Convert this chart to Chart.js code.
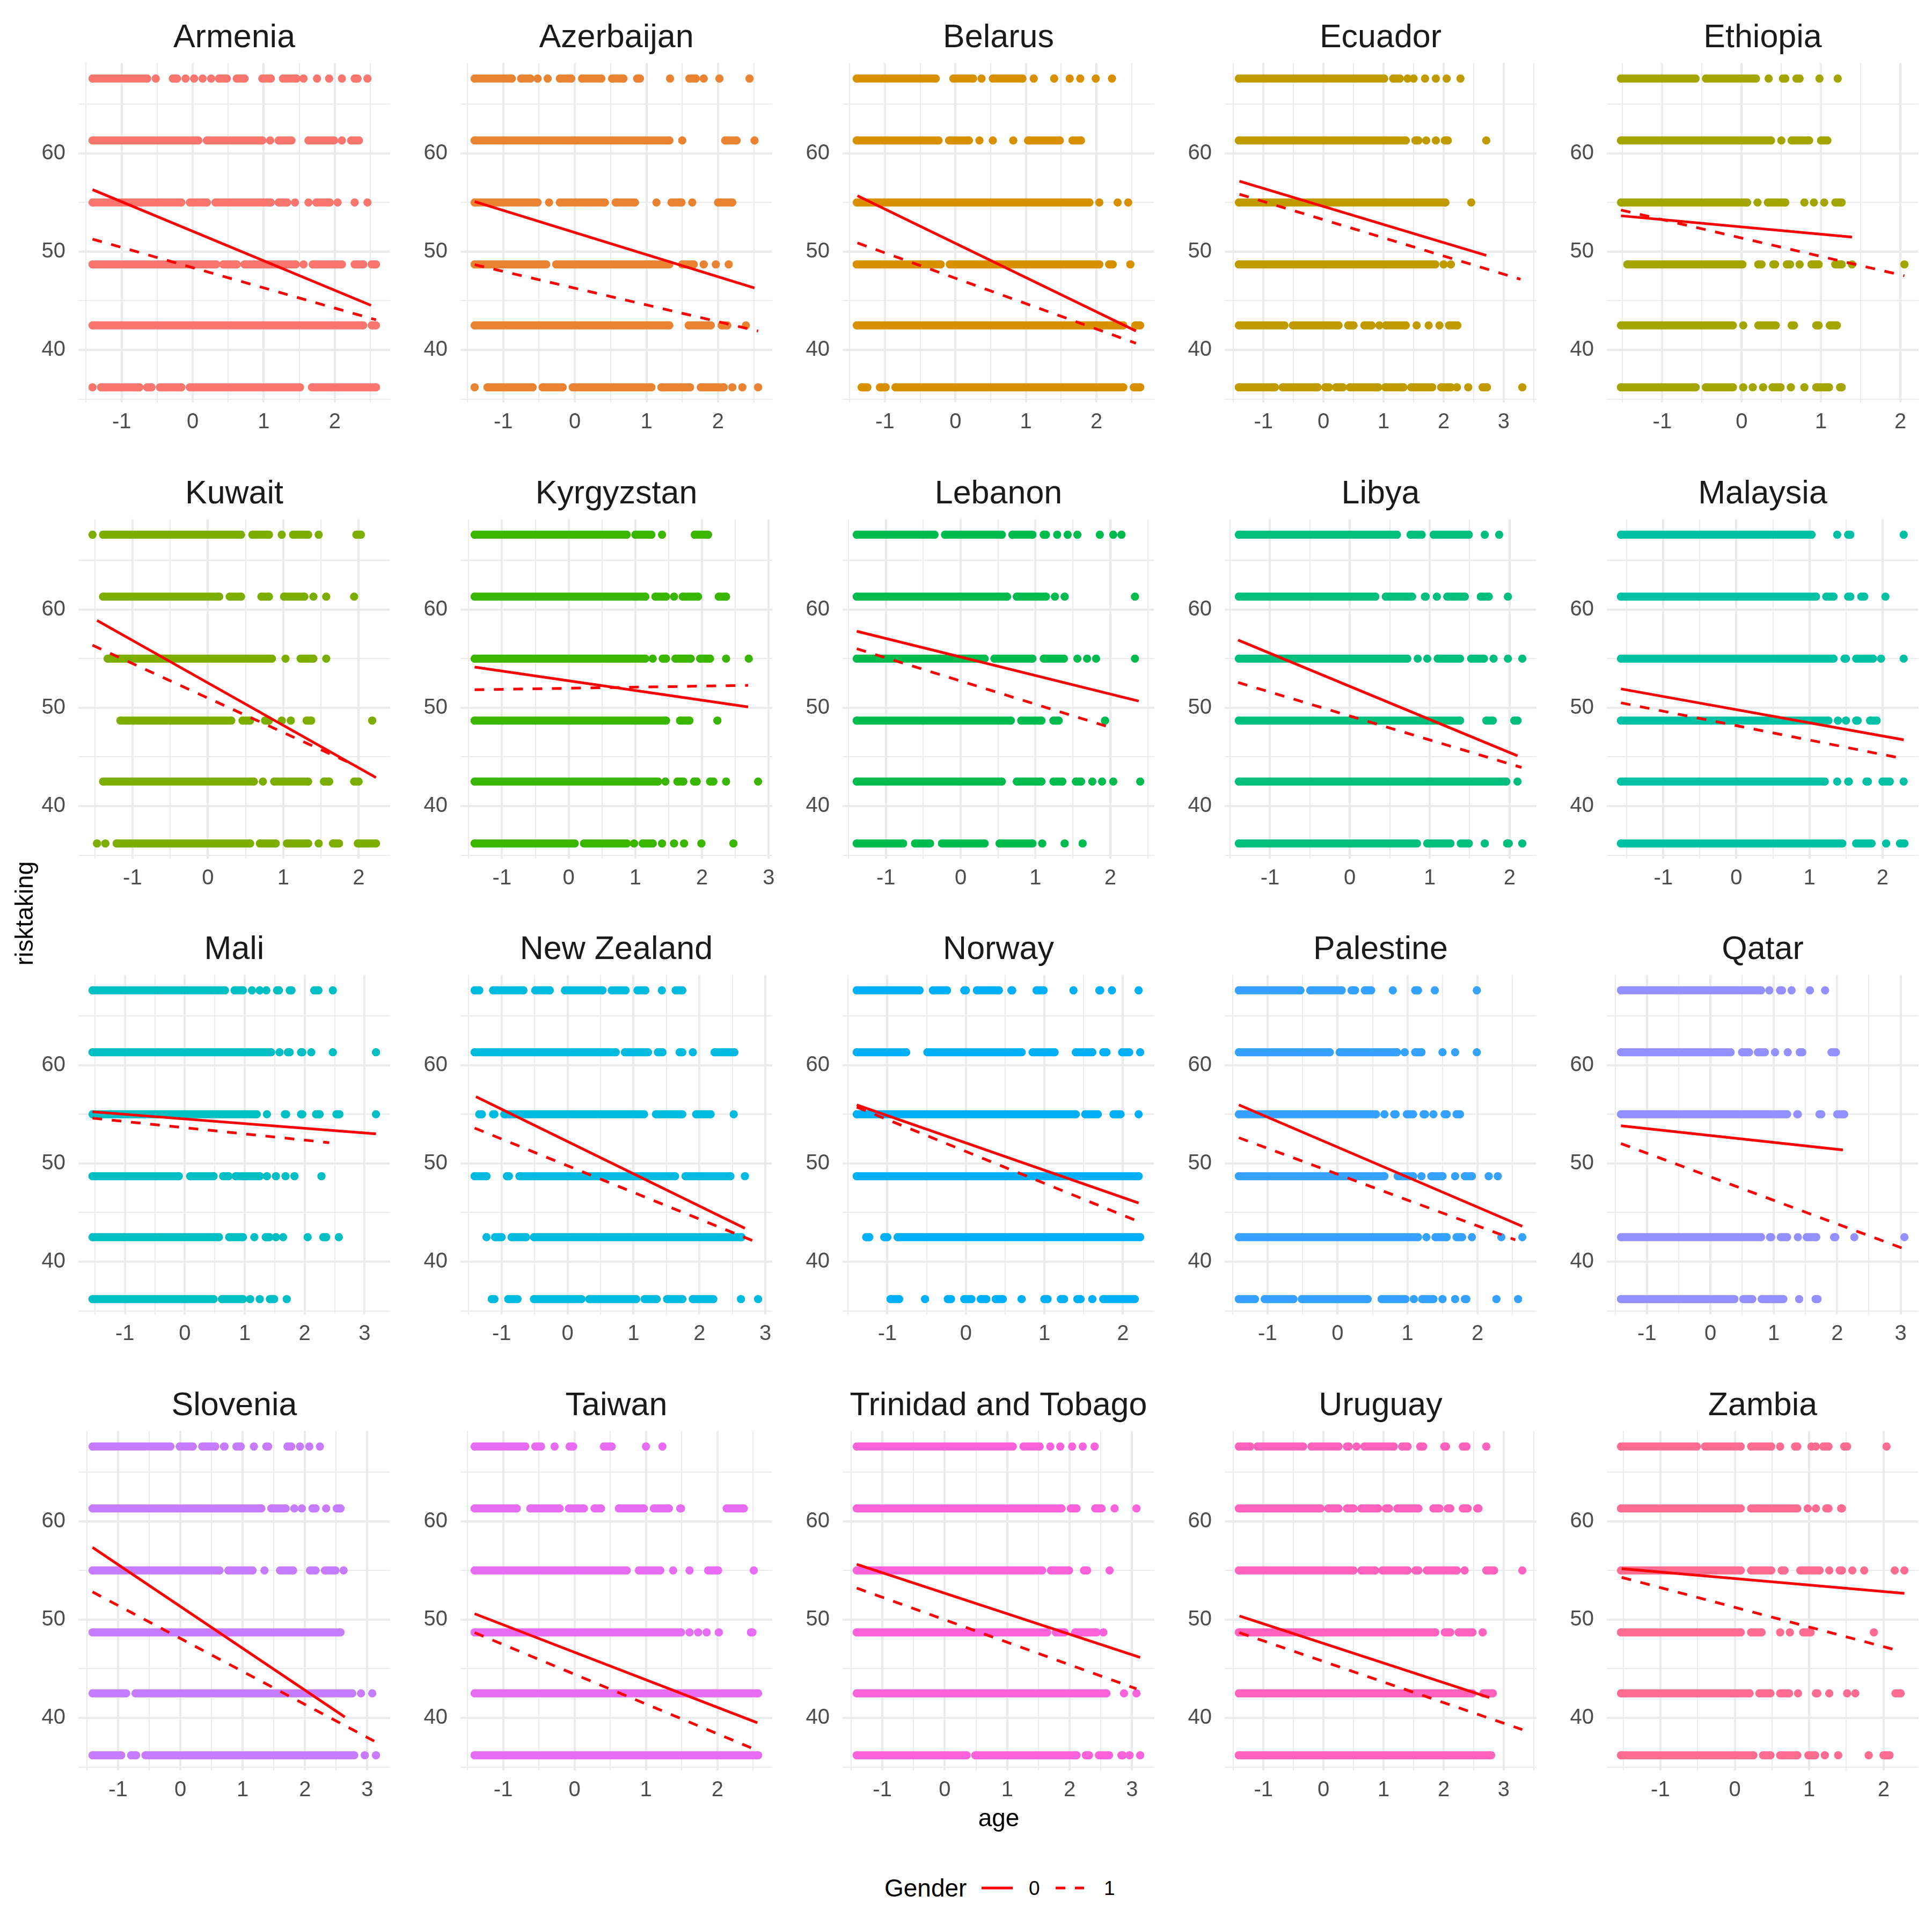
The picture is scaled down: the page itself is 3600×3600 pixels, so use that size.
<!DOCTYPE html>
<html><head><meta charset="utf-8">
<script src="https://cdn.jsdelivr.net/npm/chart.js@4.4.1/dist/chart.umd.min.js"></script>
<style>
html,body{margin:0;padding:0;background:#ffffff;}
body{width:3600px;height:3600px;position:relative;overflow:hidden;font-family:"Liberation Sans",Arial,Helvetica,sans-serif;}
canvas{position:absolute;}
.lbl{position:absolute;white-space:nowrap;color:#000000;line-height:1;}
</style></head><body>
<script>
// ---------- data ----------
const countries = ["Armenia","Azerbaijan","Belarus","Ecuador","Ethiopia","Kuwait","Kyrgyzstan","Lebanon","Libya","Malaysia","Mali","New Zealand","Norway","Palestine","Qatar","Slovenia","Taiwan","Trinidad and Tobago","Uruguay","Zambia"];
const colors = ["#F8766D","#EA8331","#D89000","#C09B00","#A3A500","#7CAE00","#39B600","#00BB4E","#00BF7D","#00C1A3","#00BFC4","#00BAE0","#00B0F6","#35A2FF","#9590FF","#C77CFF","#E76BF3","#FA62DB","#FF62BC","#FF6C91"];
// risktaking levels (top to bottom); each country lists, per level, ages of points: number = single point, [a,b] = dense run of points
const levels = [67.6, 61.3, 55.0, 48.7, 42.5, 36.2];
const yTickLabels = [40, 50, 60];
const genderLabels = ["0", "1"];

const armenia = [
 [[-1.41,-0.64],-0.52,[-0.28,-0.22],-0.1,0.02,0.14,0.26,[0.37,0.48],[0.62,0.73],[0.98,1.1],[1.27,1.46],1.56,1.75,1.92,2.1,[2.28,2.32],2.46],
 [[-1.41,0.08],[0.2,0.98],1.09,[1.21,1.39],[1.63,1.99],2.1,[2.23,2.34]],
 [[-1.41,-0.16],[-0.04,0.2],[0.32,1.1],[1.21,1.33],1.44,1.63,[1.74,1.93],2.04,2.28,2.46],
 [[-1.41,0.33],[0.43,0.62],[0.73,1.45],1.56,[1.69,2.1],[2.28,2.4],[2.52,2.58]],
 [[-1.41,2.4],[2.52,2.58]],
 [-1.41,[-1.29,-0.75],[-0.64,-0.58],[-0.46,-0.16],[-0.04,1.51],[1.68,2.58]]
];
const azerbaijan = [
 [[-1.4,-0.88],[-0.75,-0.62],-0.52,-0.38,[-0.21,-0.05],[0.1,0.37],[0.52,0.68],[0.87,0.91],1.33,[1.6,1.69],1.8,2.02,2.44],
 [[-1.4,1.32],1.5,[2.1,2.26],2.51],
 [[-1.4,-0.52],-0.36,[-0.21,0.42],[0.57,0.84],1.14,[1.35,1.49],1.64,[2.0,2.2]],
 [[-1.4,-0.4],[-0.26,1.32],[1.5,1.66],1.8,1.97,2.15],
 [[-1.4,1.32],[1.59,1.9],[2.05,2.13],2.39],
 [-1.4,[-1.22,-0.59],[-0.45,-0.17],[-0.03,1.07],[1.21,1.61],[1.76,2.08],2.2,2.34,2.56]
];
const belarus = [
 [[-1.4,-0.28],[-0.03,0.25],0.37,[0.53,0.95],1.11,1.4,1.62,1.77,1.99,2.22],
 [[-1.4,-0.24],[-0.09,0.19],0.34,0.53,0.82,[1.03,1.48],[1.66,1.78]],
 [[-1.4,1.9],2.04,2.3,2.45],
 [[-1.4,-0.21],[-0.08,2.04],[2.18,2.23],2.48],
 [[-1.4,2.38],[2.55,2.62]],
 [[-1.33,-1.25],[-1.07,-0.99],[-0.85,2.38],[2.53,2.62]]
];
const ecuador = [
 [[-1.41,1.01],[1.16,1.27],1.4,1.5,1.69,1.87,2.05,2.28],
 [[-1.41,1.37],[1.53,1.58],1.71,1.87,[2.02,2.07],2.71],
 [[-1.41,2.03],2.46],
 [[-1.41,1.86],2.0,2.12],
 [[-1.41,-0.65],[-0.51,0.25],[0.41,0.5],[0.68,0.8],0.93,[1.04,1.37],1.55,1.75,1.93,[2.09,2.23]],
 [[-1.41,-0.81],[-0.68,-0.1],[0.03,0.09],[0.21,0.32],[0.44,0.91],[1.03,1.33],[1.46,1.81],[1.96,2.12],2.22,2.41,[2.65,2.72],3.31]
];
const ethiopia = [
 [[-1.52,-0.58],[-0.45,0.18],0.34,[0.52,0.55],[0.69,0.73],0.98,1.21],
 [[-1.52,0.37],0.5,[0.63,0.85],[1.0,1.08]],
 [[-1.52,0.07],0.2,[0.33,0.55],0.79,0.91,1.04,[1.18,1.26]],
 [[-1.44,0.01],[0.21,0.25],[0.4,0.42],[0.57,0.61],0.73,[0.88,0.97],[1.18,1.26],1.39,2.05],
 [[-1.52,-0.11],0.02,[0.21,0.43],[0.63,0.66],[0.94,0.97],[1.11,1.2]],
 [[-1.52,-0.58],[-0.45,-0.11],0.02,0.14,0.27,[0.39,0.49],0.62,0.79,[0.94,1.1],[1.24,1.26]]
];
const kuwait = [
 [-1.53,[-1.39,0.44],[0.59,0.81],0.98,[1.13,1.33],1.47,[1.97,2.03]],
 [[-1.39,0.15],[0.29,0.44],[0.71,0.81],[1.01,1.28],1.4,1.57,1.94],
 [[-1.33,0.85],1.03,[1.23,1.4],1.57],
 [[-1.16,0.31],[0.46,0.56],[0.76,0.81],0.98,1.1,[1.31,1.37],2.18],
 [[-1.39,0.61],0.73,[0.88,1.33],[1.54,1.61],[1.94,2.0]],
 [-1.47,-1.36,[-1.21,0.56],[0.69,0.9],[1.05,1.33],1.47,[1.66,1.74],[1.99,2.23]]
];
const kyrgyzstan = [
 [[-1.41,0.87],[1.0,1.24],1.4,[1.89,2.09]],
 [[-1.41,1.15],[1.3,1.46],1.58,[1.71,1.94],[2.25,2.36]],
 [[-1.41,1.15],1.26,[1.41,1.46],[1.6,1.83],[1.97,2.12],2.36,2.7],
 [[-1.41,1.46],[1.67,1.81],2.23],
 [[-1.41,1.34],1.45,[1.63,1.72],[1.88,1.92],[2.12,2.17],2.36,2.84],
 [[-1.41,0.09],[0.23,0.87],0.98,[1.11,1.26],1.4,1.58,1.73,1.99,2.47]
];
const lebanon = [
 [[-1.39,-0.35],[-0.21,0.55],[0.69,0.96],[1.11,1.14],1.29,1.43,1.56,1.86,2.04,2.15],
 [[-1.39,0.62],[0.75,1.14],1.26,1.39,2.33],
 [[-1.39,0.32],[0.45,0.96],[1.11,1.38],1.56,1.69,1.81,2.33],
 [[-1.39,0.67],[0.81,1.08],[1.24,1.31],1.93],
 [[-1.39,0.55],[0.75,1.08],[1.24,1.36],[1.54,1.61],1.76,1.89,2.04,2.4],
 [[-1.39,-0.77],[-0.61,-0.41],[-0.25,0.32],[0.52,0.96],1.09,1.39,1.63]
];
const libya = [
 [[-1.39,0.59],[0.76,0.9],[1.05,1.49],1.69,1.87],
 [[-1.39,0.32],[0.45,0.78],[0.94,0.95],1.09,[1.22,1.44],[1.64,1.74],1.98],
 [[-1.39,0.72],0.85,0.97,[1.1,1.38],[1.52,1.68],1.8,1.98,2.16],
 [[-1.39,1.38],[1.71,1.79],[2.06,2.1]],
 [[-1.39,1.96],2.1],
 [[-1.39,0.84],[0.97,1.26],[1.39,1.49],1.69,[1.97,1.99],2.16]
];
const malaysia = [
 [[-1.58,1.03],1.38,[1.53,1.56],2.29],
 [[-1.58,1.09],[1.23,1.33],[1.53,1.56],[1.71,1.75],2.04],
 [[-1.58,1.33],[1.48,1.5],[1.64,1.87],1.98,2.29],
 [[-1.58,1.26],1.39,1.5,[1.64,1.66],[1.83,1.92]],
 [[-1.58,1.21],1.38,[1.53,1.54],[1.78,1.8],[2.0,2.1],2.29],
 [[-1.58,1.45],[1.64,1.85],2.05,[2.24,2.3]]
];
const mali = [
 [[-1.54,0.67],[0.83,0.97],1.12,1.25,1.36,[1.54,1.57],[1.75,1.78],[2.16,2.23],2.47],
 [[-1.54,1.44],1.58,[1.72,1.75],[1.94,1.96],2.11,2.47,3.19],
 [[-1.54,1.2],1.37,[1.67,1.69],[1.94,1.96],[2.19,2.25],[2.53,2.58],3.19],
 [[-1.54,-0.1],[0.09,0.48],[0.64,0.73],[0.85,1.25],1.37,1.52,1.68,1.83,2.28],
 [[-1.54,0.57],[0.74,0.97],1.16,[1.35,1.41],1.52,1.64,2.05,[2.31,2.36],2.57],
 [[-1.54,0.48],[0.62,0.97],1.09,1.25,[1.42,1.49],1.7]
];
const newZealand = [
 [[-1.41,-1.34],[-1.13,-0.67],[-0.49,-0.27],[-0.04,0.53],[0.67,0.88],[1.06,1.18],1.43,[1.64,1.74]],
 [[-1.41,0.73],[0.87,1.22],[1.37,1.44],[1.7,1.74],1.9,[2.23,2.53]],
 [[-1.34,-1.3],[-1.13,-1.11],[-0.96,1.16],[1.34,1.74],[1.95,2.17],2.52],
 [[-1.41,-1.23],[-0.92,-0.89],[-0.73,1.63],[1.79,2.47],2.69],
 [-1.23,[-1.1,-1.0],[-0.85,-0.63],[-0.51,2.64]],
 [[-1.15,-1.11],[-0.9,-0.76],[-0.51,0.21],[0.33,1.04],[1.17,1.35],[1.51,1.74],[1.9,2.21],2.63,2.89]
];
const norway = [
 [[-1.39,-0.59],[-0.42,-0.24],[-0.02,0.0],[0.14,0.42],[0.58,0.59],[0.9,0.99],1.37,[1.7,1.71],1.86,2.2],
 [[-1.39,-0.76],[-0.49,0.71],[0.85,1.13],[1.4,1.61],[1.75,1.79],[1.99,2.08],2.22],
 [[-1.39,1.4],[1.52,1.68],[1.88,1.97],2.2],
 [[-1.39,2.2]],
 [[-1.27,-1.23],[-1.04,-1.0],[-0.87,2.22]],
 [[-0.96,-0.85],-0.52,[-0.23,-0.19],[-0.02,0.07],[0.19,0.26],[0.38,0.47],0.71,[1.0,1.04],[1.21,1.25],[1.42,1.46],1.61,[1.75,2.15]]
];
const palestine = [
 [[-1.41,-0.53],[-0.39,0.06],[0.2,0.25],[0.39,0.48],0.79,[1.11,1.15],1.39,1.99],
 [[-1.41,-0.11],[0.03,0.85],0.96,[1.11,1.2],1.5,1.68,1.99],
 [[-1.41,0.55],0.67,[0.81,0.83],[0.99,1.08],[1.23,1.25],1.37,[1.53,1.56],[1.7,1.75]],
 [[-1.41,0.67],[0.86,1.08],1.2,[1.34,1.5],1.68,[1.82,1.92],2.16,2.29],
 [[-1.41,1.15],1.27,[1.4,1.56],[1.7,1.78],1.92,2.34,2.64],
 [[-1.41,-1.18],[-1.04,-0.63],[-0.51,0.43],[0.63,0.97],1.09,[1.21,1.37],1.5,1.68,[1.82,1.84],2.27,2.58]
];
const qatar = [
 [[-1.41,0.8],0.93,[1.1,1.13],1.28,1.57,1.81],
 [[-1.41,0.32],[0.5,0.61],[0.75,0.86],1.02,1.22,[1.41,1.45],[1.91,1.98]],
 [[-1.41,1.21],[1.37,1.38],[1.72,1.75],[2.0,2.11]],
 [],
 [[-1.41,0.8],[0.94,0.96],[1.11,1.21],1.38,[1.52,1.67],[1.95,1.97],2.27,3.06],
 [[-1.41,0.38],[0.52,0.66],[0.81,1.15],1.4,[1.66,1.69]]
];
const slovenia = [
 [[-1.41,-0.16],[-0.01,0.2],[0.35,0.56],[0.7,0.71],[0.9,0.97],1.18,[1.38,1.41],[1.72,1.78],1.92,2.07,2.24],
 [[-1.41,1.3],[1.46,1.69],1.83,1.95,[2.12,2.17],2.34,[2.51,2.57]],
 [[-1.41,0.63],[0.77,1.16],1.35,[1.6,1.81],[2.08,2.17],[2.32,2.49],2.62],
 [[-1.41,2.57]],
 [[-1.41,-0.87],[-0.72,2.76],2.9,3.08],
 [[-1.41,-0.95],[-0.79,-0.71],[-0.56,2.79],2.96,3.14]
];
const taiwan = [
 [[-1.4,-0.69],[-0.55,-0.47],-0.28,[-0.07,-0.02],[0.41,0.52],1.0,1.23],
 [[-1.4,-0.81],[-0.62,-0.21],[-0.08,0.13],[0.28,0.37],[0.62,0.97],[1.11,1.32],[1.48,1.49],[2.13,2.37]],
 [[-1.4,0.73],[0.9,1.2],1.38,1.61,[1.87,2.01],2.51],
 [[-1.4,1.49],1.61,1.73,1.85,2.02,[2.47,2.49]],
 [[-1.4,2.57]],
 [[-1.4,2.57]]
];
const trinidad = [
 [[-1.41,1.09],[1.26,1.52],1.69,1.85,2.04,2.21,2.4],
 [[-1.41,1.87],[2.02,2.11],[2.41,2.51],2.72,3.07],
 [[-1.41,1.56],[1.7,1.99],[2.23,2.28],2.64],
 [[-1.41,1.64],[1.78,1.92],[2.09,2.43],2.54],
 [[-1.41,2.59],2.87,3.07],
 [[-1.41,0.35],[0.49,2.11],[2.26,2.31],[2.47,2.63],[2.83,2.85],2.96,3.13]
];
const uruguay = [
 [[-1.41,-1.22],[-1.1,-0.34],[-0.2,0.25],[0.39,0.42],0.55,[0.68,1.17],[1.31,1.4],[1.61,1.66],[2.01,2.04],[2.32,2.38],2.71],
 [[-1.41,-0.05],[0.08,0.25],[0.39,0.5],[0.63,0.91],[1.04,1.09],[1.23,1.58],[1.83,1.93],[2.07,2.11],[2.32,2.4],[2.56,2.58]],
 [[-1.41,0.5],[0.63,0.86],[0.98,1.4],[1.53,1.58],[1.72,2.22],2.35,[2.71,2.84],3.31],
 [[-1.41,1.86],[2.02,2.11],[2.25,2.48],2.65],
 [[-1.41,2.48],[2.66,2.82]],
 [[-1.41,2.79]]
];
const zambia = [
 [[-1.53,-0.51],[-0.4,0.08],[0.22,0.49],0.61,[0.81,0.84],1.03,1.09,[1.19,1.26],[1.47,1.51],2.04],
 [[-1.53,0.08],[0.22,0.84],0.98,1.09,[1.23,1.26],[1.43,1.44]],
 [[-1.53,0.08],[0.22,0.49],[0.63,0.67],[0.88,1.14],1.27,[1.41,1.44],1.58,1.74,2.15,2.28],
 [[-1.53,0.08],[0.22,0.36],0.61,0.74,[0.92,1.02],1.87],
 [[-1.53,0.2],[0.33,0.48],[0.61,0.73],0.85,[1.09,1.11],1.27,1.51,1.62,[2.16,2.23]],
 [[-1.53,0.25],[0.38,0.48],[0.61,0.84],[0.99,1.08],1.21,1.39,1.8,[2.0,2.08]]
];
// fitted lines [x0, y0, x1, y1]: Gender 0 (solid) and Gender 1 (dashed)
const fitGender0 = [
 [-1.41,56.3,2.51,44.53],[-1.4,55.09,2.51,46.3],[-1.39,55.68,2.56,41.92],[-1.4,57.16,2.71,49.61],[-1.52,53.64,1.39,51.48],
 [-1.47,58.88,2.23,42.9],[-1.41,54.14,2.69,50.09],[-1.39,57.78,2.38,50.68],[-1.4,56.89,2.1,45.11],[-1.58,51.92,2.29,46.74],
 [-1.54,55.25,3.19,53.0],[-1.39,56.78,2.69,43.4],[-1.39,55.95,2.2,45.97],[-1.41,55.95,2.64,43.6],[-1.41,53.83,2.09,51.37],
 [-1.41,57.34,2.64,40.09],[-1.4,50.59,2.56,39.5],[-1.41,55.62,3.13,46.15],[-1.4,50.36,2.76,42.07],[-1.52,55.18,2.28,52.66]
];
const fitGender1 = [
 [-1.41,51.27,2.58,43.06],[-1.4,48.67,2.56,41.92],[-1.39,50.88,2.56,40.68],[-1.4,55.83,3.28,47.19],[-1.52,54.23,2.05,47.54],
 [-1.53,56.36,1.97,44.08],[-1.41,51.83,2.69,52.28],[-1.39,56.0,2.03,47.93],[-1.4,52.57,2.15,43.93],[-1.58,50.5,2.29,44.82],
 [-1.54,54.6,2.41,52.11],[-1.41,53.59,2.89,41.92],[-1.39,55.72,2.2,44.08],[-1.41,52.61,2.54,42.22],[-1.41,52.02,3.06,41.3],
 [-1.41,52.81,3.14,37.54],[-1.4,48.67,2.56,36.69],[-1.41,53.2,3.07,42.96],[-1.4,48.67,3.31,38.81],[-1.52,54.29,2.22,46.8]
];
const pointSets = [armenia, azerbaijan, belarus, ecuador, ethiopia, kuwait, kyrgyzstan, lebanon, libya, malaysia,
                   mali, newZealand, norway, palestine, qatar, slovenia, taiwan, trinidad, uruguay, zambia];

// ---------- layout ----------
const FONT = '"Liberation Sans", Arial, Helvetica, sans-serif';
const colLeft = [146, 858, 1570, 2282, 2994];
const ROW_STEP = 849.5;
const YAXIS_W = 146, PANEL_W = 581, RIGHT_PAD = 30, CANVAS_H = 850;
const TITLE_H = 117.6, PANEL_H = 632.8;
const Y_MIN = 34.63, Y_MAX = 69.17;

function isMult(v, s) { return Math.abs(v / s - Math.round(v / s)) < 1e-6; }
function stepTicks(step) {
  return scale => {
    const t = [];
    for (let k = Math.ceil(scale.min / step - 1e-9); k * step <= scale.max + 1e-9; k++) {
      t.push({value: Math.round(k * step * 1000) / 1000});
    }
    scale.ticks = t;
  };
}

countries.forEach((name, i) => {
  const row = Math.floor(i / 5), col = i % 5;
  const cw = YAXIS_W + PANEL_W + RIGHT_PAD;
  const canvas = document.createElement('canvas');
  canvas.width = cw; canvas.height = CANVAS_H;
  canvas.style.width = cw + 'px'; canvas.style.height = CANVAS_H + 'px';
  canvas.style.left = (colLeft[col] - YAXIS_W) + 'px';
  canvas.style.top = Math.round(row * ROW_STEP) + 'px';
  document.body.appendChild(canvas);

  const color = colors[i];
  const datasets = [];
  let xmin = Infinity, xmax = -Infinity;
  const f0 = fitGender0[i], f1 = fitGender1[i];
  datasets.push({data: [{x: f0[0], y: f0[1]}, {x: f0[2], y: f0[3]}], showLine: true, borderColor: '#FF0000',
    borderWidth: 5, pointRadius: 0, pointHoverRadius: 0, order: 0});
  datasets.push({data: [{x: f1[0], y: f1[1]}, {x: f1[2], y: f1[3]}], showLine: true, borderColor: '#FF0000',
    borderWidth: 5, borderDash: [18, 18], pointRadius: 0, pointHoverRadius: 0, order: 0});

  pointSets[i].forEach((runs, li) => {
    const y = levels[li];
    const data = [];
    runs.forEach(r => {
      const xs = Array.isArray(r) ? r : [r];
      xs.forEach(x => { data.push({x: x, y: y}); xmin = Math.min(xmin, x); xmax = Math.max(xmax, x); });
      data.push({x: xs[xs.length - 1], y: null});
    });
    datasets.push({data: data, showLine: true, spanGaps: false, borderColor: color, backgroundColor: color,
      borderWidth: 15, borderCapStyle: 'round', pointRadius: 7.5, pointHoverRadius: 7.5, pointBorderWidth: 0,
      pointBackgroundColor: color, order: 1});
  });
  const ext = (xmax - xmin) * 0.05;

  new Chart(canvas, {
    type: 'scatter',
    data: {datasets: datasets},
    options: {
      responsive: false, animation: false, devicePixelRatio: 1, events: [],
      layout: {padding: {left: 0, right: RIGHT_PAD, top: 0, bottom: 0}},
      plugins: {
        legend: {display: false}, tooltip: {enabled: false},
        title: {display: true, text: name, fullSize: false, color: '#1A1A1A',
          font: {family: FONT, size: 61, weight: 'normal', lineHeight: 1.2},
          padding: {top: 34.9, bottom: 9.5}}
      },
      scales: {
        x: {
          type: 'linear', bounds: 'data', min: xmin - ext, max: xmax + ext,
          afterBuildTicks: stepTicks(0.5),
          afterFit: s => { s.height = CANVAS_H - TITLE_H - PANEL_H; },
          border: {display: false},
          grid: {color: '#EBEBEB', drawTicks: false,
            lineWidth: c => (c.tick && isMult(c.tick.value, 1)) ? 4 : 2},
          ticks: {autoSkip: false, maxRotation: 0, minRotation: 0,
            padding: 13, color: '#4D4D4D', font: {family: FONT, size: 40},
            callback: v => isMult(v, 1) ? String(Math.round(v)) : ''}
        },
        y: {
          type: 'linear', bounds: 'data', min: Y_MIN, max: Y_MAX,
          afterBuildTicks: stepTicks(5),
          afterFit: s => { s.width = YAXIS_W; },
          border: {display: false},
          grid: {color: '#EBEBEB', drawTicks: false,
            lineWidth: c => (c.tick && isMult(c.tick.value, 10)) ? 4 : 2},
          ticks: {autoSkip: false, padding: 24,
            color: '#4D4D4D', font: {family: FONT, size: 40},
            callback: v => (isMult(v, 10) && yTickLabels.includes(Math.round(v))) ? String(Math.round(v)) : ''}
        }
      }
    }
  });
});

// ---------- axis titles and legend ----------
function addLabel(text, css) {
  const d = document.createElement('div');
  d.className = 'lbl';
  d.textContent = text;
  Object.assign(d.style, css);
  document.body.appendChild(d);
  return d;
}
addLabel('age', {left: '1861px', top: '3387px', fontSize: '46px', transform: 'translate(-50%,-50%)'});
addLabel('risktaking', {left: '45px', top: '1702px', fontSize: '46px', transform: 'translate(-50%,-50%) rotate(-90deg)'});
addLabel('Gender', {left: '1648px', top: '3518px', fontSize: '46px', transform: 'translateY(-50%)'});
addLabel(genderLabels[0], {left: '1917px', top: '3518px', fontSize: '37px', transform: 'translateY(-50%)'});
addLabel(genderLabels[1], {left: '2057px', top: '3518px', fontSize: '37px', transform: 'translateY(-50%)'});
const svgNS = 'http://www.w3.org/2000/svg';
const svg = document.createElementNS(svgNS, 'svg');
svg.setAttribute('width', '200'); svg.setAttribute('height', '20');
svg.style.position = 'absolute'; svg.style.left = '1829px'; svg.style.top = '3508px';
[[0, 58, null], [138, 191, '18,18']].forEach(([a, b, dash]) => {
  const ln = document.createElementNS(svgNS, 'line');
  ln.setAttribute('x1', a); ln.setAttribute('x2', b); ln.setAttribute('y1', 10); ln.setAttribute('y2', 10);
  ln.setAttribute('stroke', '#FF0000'); ln.setAttribute('stroke-width', '5');
  if (dash) ln.setAttribute('stroke-dasharray', dash);
  svg.appendChild(ln);
});
document.body.appendChild(svg);
</script>
</body></html>
